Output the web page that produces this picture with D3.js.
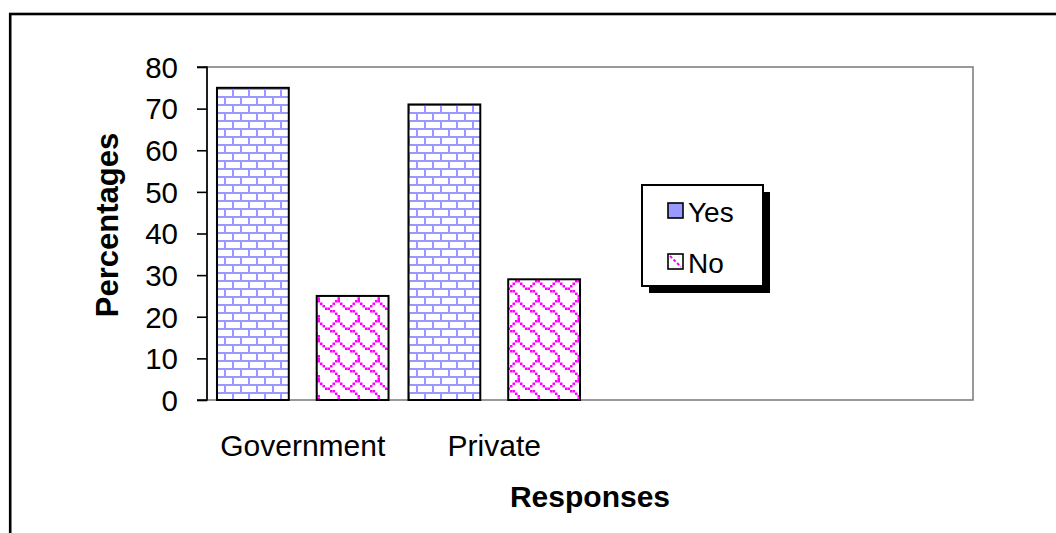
<!DOCTYPE html>
<html><head><meta charset="utf-8">
<script src="https://cdn.jsdelivr.net/npm/d3@7"></script>
<style>
html,body{margin:0;padding:0;background:#fff;}
svg{display:block;font-family:Arial,"Liberation Sans",sans-serif;}
</style></head>
<body>
<svg id="chart" width="1056" height="533"></svg>
<script>
const categories = ["Government", "Private"];
const seriesNames = ["Yes", "No"];
const yesValues = [75, 71];
const noValues = [25, 29];
const yTicks = [0, 10, 20, 30, 40, 50, 60, 70, 80];
const xTitle = "Responses";
const yTitle = "Percentages";

const svg = d3.select("#chart");
const W = 1056, H = 533;
svg.append("rect").attr("width", W).attr("height", H).attr("fill", "#fff");

// patterns (8x8 bitmaps scaled)
const defs = svg.append("defs");
function bitPattern(id, rows, color, scale) {
  const p = defs.append("pattern").attr("id", id).attr("patternUnits", "userSpaceOnUse")
    .attr("width", 8 * scale).attr("height", 8 * scale);
  p.append("rect").attr("width", 8 * scale).attr("height", 8 * scale).attr("fill", "#fff");
  rows.forEach((r, yi) => {
    for (let xi = 0; xi < 8; xi++) {
      if (r & (0x80 >> xi)) {
        p.append("rect").attr("x", xi * scale).attr("y", yi * scale)
          .attr("width", scale).attr("height", scale).attr("fill", color);
      }
    }
  });
}
bitPattern("brick", [0xff, 0x80, 0x80, 0x80, 0xff, 0x08, 0x08, 0x08], "#9999ff", 2);
bitPattern("shingle", [0x03, 0x84, 0x48, 0x30, 0x0c, 0x02, 0x01, 0x01], "#ff00ff", 2.5);

const fills = {Yes: "url(#brick)", No: "url(#shingle)"};

// outer border
svg.append("rect").attr("x", 10.2).attr("y", 14).attr("width", 1200).attr("height", 700)
  .attr("fill", "none").attr("stroke", "#000").attr("stroke-width", 2.6);

const plot = {left: 207, right: 973, top: 67, bottom: 400};

const y = d3.scaleLinear().domain([0, 80]).range([plot.bottom, plot.top]);
const x = d3.scaleBand().domain(d3.range(4)).range([plot.left, plot.right]).padding(0);
const xs = d3.scaleBand().domain(seriesNames).range([0, x.bandwidth()])
  .paddingInner(0.28).paddingOuter(0.1);

// plot area border (gray)
svg.append("rect").attr("x", plot.left).attr("y", plot.top)
  .attr("width", plot.right - plot.left).attr("height", plot.bottom - plot.top)
  .attr("fill", "none").attr("stroke", "#808080").attr("stroke-width", 1.6);

// bars
const data = categories.map((c, i) => ({cat: i, values: [
  {s: "Yes", v: yesValues[i]}, {s: "No", v: noValues[i]}]}));
const g = svg.append("g");
data.forEach(d => {
  g.selectAll(null).data(d.values).enter().append("rect")
    .attr("x", v => x(d.cat) + xs(v.s))
    .attr("y", v => y(v.v))
    .attr("width", xs.bandwidth())
    .attr("height", v => y(0) - y(v.v))
    .attr("fill", v => fills[v.s])
    .attr("stroke", "#000").attr("stroke-width", 2);
});

// y axis
const yAxis = d3.axisLeft(y).tickValues(yTicks).tickSize(10).tickPadding(19).tickFormat(d3.format("d"));
const ya = svg.append("g").attr("transform", `translate(${plot.left},0)`).call(yAxis);
ya.select(".domain").attr("stroke", "#000").attr("stroke-width", 1.6).attr("d", `M-10,${plot.top}H0V${plot.bottom}H-10`);
ya.selectAll(".tick line").attr("stroke", "#000").attr("stroke-width", 1.6);
ya.selectAll(".tick text").attr("font-size", 29.5).attr("fill", "#000")
  .attr("font-family", "Arial, 'Liberation Sans', sans-serif").attr("dy", "0.35em");

// x axis labels
const xAxis = d3.axisBottom(x).tickSize(0).tickPadding(0).tickFormat(i => categories[i] || "");
const xa = svg.append("g").attr("transform", `translate(0,${plot.bottom})`).call(xAxis);
xa.select(".domain").remove();
xa.selectAll(".tick text").attr("font-size", 30).attr("fill", "#000")
  .attr("font-family", "Arial, 'Liberation Sans', sans-serif").attr("dy", null).attr("y", 56);

// titles
svg.append("text").attr("x", (plot.left + plot.right) / 2).attr("y", 507)
  .attr("text-anchor", "middle").attr("font-size", 30).attr("font-weight", "bold").text(xTitle);
svg.append("text").attr("transform", "translate(118,225) rotate(-90)")
  .attr("text-anchor", "middle").attr("font-size", 31).attr("font-weight", "bold").text(yTitle);

// legend
const lg = {x: 642, y: 185, w: 121, h: 101};
svg.append("rect").attr("x", lg.x + 7).attr("y", lg.y + 7).attr("width", lg.w).attr("height", lg.h).attr("fill", "#000");
svg.append("rect").attr("x", lg.x).attr("y", lg.y).attr("width", lg.w).attr("height", lg.h)
  .attr("fill", "#fff").attr("stroke", "#000").attr("stroke-width", 2);
const ly = d3.scalePoint().domain(seriesNames).range([lg.y + 26, lg.y + 77]);
seriesNames.forEach(s => {
  const sx = lg.x + 26, sy = ly(s) - 8;
  svg.append("rect").attr("x", sx).attr("y", sy).attr("width", 15).attr("height", 15)
    .attr("fill", s === "Yes" ? "#9999ff" : "#fff").attr("stroke", "#000").attr("stroke-width", 1.6);
  if (s === "No") {
    svg.append("line").attr("x1", sx + 2).attr("y1", sy + 2).attr("x2", sx + 13).attr("y2", sy + 13)
      .attr("stroke", "#ff00ff").attr("stroke-width", 2).attr("stroke-dasharray", "3,2");
  }
  svg.append("text").attr("x", lg.x + 46).attr("y", ly(s) + 11).attr("font-size", 28).text(s);
});
</script>
</body></html>
